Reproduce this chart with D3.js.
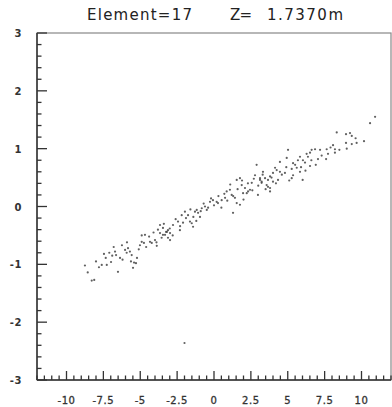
<!DOCTYPE html>
<html><head><meta charset="utf-8">
<script src="https://cdn.jsdelivr.net/npm/d3@7"></script>
<style>body{margin:0;background:#fff}svg{display:block}</style>
</head><body>
<script>
const titleParts = ["Element=17", "Z=", "1.7370m"];
const xTicks = [-10, -7.5, -5, -2.5, 0, 2.5, 5, 7.5, 10];
const xTickLabels = ["-10", "-7.5", "-5", "-2.5", "0", "2.5", "5", "7.5", "10"];
const yTicks = [-3, -2, -1, 0, 1, 2, 3];
const yTickLabels = ["-3", "-2", "-1", "0", "1", "2", "3"];
const xDomain = [-12, 12];
const yDomain = [-3, 3];
const pointsX = [
-8.75,-8.56,-8.29,-8.12,-7.46,-7.34,-7.61,-7.27,-6.98,-6.71,-6.64,-6.37,-6.03,-5.92,-5.83,-5.58,-5.63,-5.42,-5.49,-5.22,-5.29,-4.90,-5.02,-4.75,-4.68,-4.34,-4.22,-3.88,-4.00,-3.66,-3.46,-3.25,-3.12,-2.98,-6.51,-6.24,
-3.66,-3.46,-3.19,-3.12,-3.32,-2.78,-2.44,-2.19,-1.97,-1.76,-1.63,-1.51,-1.42,-1.29,-1.17,-1.08,-0.83,-0.61,-0.49,-0.27,-0.07,0.18,0.27,0.52,0.75,0.86,1.08,1.20,1.29,1.54,1.76,1.88,1.97,2.10,2.22,2.31,2.44,2.56,2.78,2.89,2.98,3.12,3.23,3.46,3.66,3.80,4.00,4.25,4.34,1.54,1.76,1.42,-0.95,-2.31,-2.98,-3.55,
10.92,10.58,8.32,8.95,9.22,9.34,8.07,8.95,9.34,9.67,10.17,7.64,8.20,7.73,8.20,7.19,6.85,6.62,6.51,6.28,6.37,7.05,5.83,6.03,6.17,5.69,5.02,4.93,5.36,5.61,4.47,4.14,4.47,4.81,5.27,5.36,5.83,6.01,6.51,3.32,3.80,3.66,3.23,3.57,4.00,5.27,3.80,3.12,
-8.0,-7.8,-7.1,-6.9,-6.8,-6.2,-5.9,-5.7,-5.1,-4.9,-4.6,-4.4,-4.1,-3.9,-3.8,-3.4,-3.0,-2.8,-2.6,-2.3,-2.1,-1.9,-1.6,-1.4,-1.2,-0.9,-0.7,-0.4,-0.2,0.0,0.3,0.5,0.7,0.9,1.1,1.3,1.6,1.9,2.0,2.3,2.6,2.7,3.0,3.3,3.5,3.9,4.2,4.6,4.9,5.1,5.5,5.9,6.2,6.6,6.9,7.3,7.6,7.9,8.5,9.0,9.6,-2.0
];
const pointsY = [
-1.02,-1.14,-1.28,-1.27,-0.82,-0.89,-1.01,-1.01,-0.96,-0.78,-0.84,-0.89,-0.75,-0.80,-0.72,-0.84,-0.95,-0.97,-1.06,-0.89,-0.98,-0.61,-0.67,-0.63,-0.49,-0.61,-0.63,-0.68,-0.58,-0.46,-0.49,-0.44,-0.54,-0.46,-1.13,-0.67,
-0.32,-0.37,-0.44,-0.41,-0.49,-0.32,-0.26,-0.15,-0.09,-0.15,-0.26,-0.29,-0.35,-0.09,-0.06,-0.11,-0.03,0.00,-0.06,0.08,0.11,0.08,0.06,0.11,0.15,0.26,0.29,0.20,-0.11,0.46,0.49,0.37,0.23,0.32,0.23,0.26,0.29,0.41,0.54,0.72,0.20,0.46,0.41,0.49,0.34,0.26,0.58,0.63,0.46,0.06,0.03,0.15,-0.18,-0.41,-0.58,-0.54,
1.55,1.44,1.28,1.25,1.27,1.22,1.06,1.10,1.08,1.10,1.13,0.99,0.99,0.91,0.93,0.98,0.99,0.98,0.93,0.91,0.86,0.82,0.86,0.80,0.76,0.80,0.98,0.84,0.75,0.67,0.77,0.67,0.60,0.58,0.65,0.54,0.60,0.46,0.70,0.60,0.52,0.46,0.43,0.37,0.43,0.49,0.32,0.49,
-0.95,-1.05,-0.80,-0.85,-0.70,-0.92,-0.62,-0.78,-0.74,-0.50,-0.70,-0.52,-0.45,-0.62,-0.40,-0.30,-0.38,-0.50,-0.22,-0.34,-0.28,-0.20,-0.05,-0.18,-0.25,-0.08,0.05,-0.02,0.14,0.02,0.18,-0.02,0.22,0.10,0.38,0.18,0.30,0.45,0.12,0.40,0.28,0.48,0.36,0.55,0.30,0.50,0.40,0.55,0.68,0.45,0.72,0.68,0.62,0.80,0.72,0.88,0.82,1.02,0.98,1.00,1.18,-2.36
];

const W = 392, H = 407;
const pLeft = 37, pRight = 391, pTop = 33, pBottom = 380;
const svg = d3.select("body").append("svg").attr("width", W).attr("height", H);
const x = d3.scaleLinear().domain(xDomain).range([pLeft, pRight]);
const y = d3.scaleLinear().domain(yDomain).range([pBottom, pTop]);

// frame
svg.append("rect").attr("x", pLeft).attr("y", pTop).attr("width", pRight - pLeft).attr("height", pBottom - pTop)
  .attr("fill", "none").attr("stroke", "#888").attr("stroke-width", 1.2);

// x minor/major ticks
const xMinor = d3.range(-12, 12.001, 0.5);
svg.append("g").selectAll("line").data(xMinor).join("line")
  .attr("x1", d => x(d)).attr("x2", d => x(d))
  .attr("y1", pBottom).attr("y2", d => Math.abs(d / 2.5 - Math.round(d / 2.5)) < 1e-6 ? pBottom - 9 : pBottom - 4.5)
  .attr("stroke", "#333").attr("stroke-width", 1.3);
const yMinor = d3.range(-3, 3.001, 0.2);
svg.append("g").selectAll("line").data(yMinor).join("line")
  .attr("y1", d => y(d)).attr("y2", d => y(d))
  .attr("x1", pLeft).attr("x2", d => Math.abs(d - Math.round(d)) < 1e-6 ? pLeft + 10 : pLeft + 4.5)
  .attr("stroke", "#333").attr("stroke-width", 1.3);

// axis lines
svg.append("line").attr("x1", pLeft).attr("x2", pLeft).attr("y1", pTop).attr("y2", pBottom).attr("stroke", "#333").attr("stroke-width", 1.5);
svg.append("line").attr("x1", pLeft).attr("x2", pRight).attr("y1", pBottom).attr("y2", pBottom).attr("stroke", "#333").attr("stroke-width", 1.5);

// tick labels
svg.append("g").selectAll("text").data(xTicks).join("text")
  .attr("x", d => x(d)).attr("y", 404).attr("text-anchor", "middle")
  .attr("font-family", "DejaVu Sans, sans-serif").attr("font-size", 10)
  .attr("letter-spacing", 0.6).attr("fill", "#333").attr("stroke", "#333").attr("stroke-width", 0.3)
  .text((d, i) => xTickLabels[i]);
svg.append("g").selectAll("text").data(yTicks).join("text")
  .attr("x", 22).attr("y", d => y(d) + 4).attr("text-anchor", "end")
  .attr("font-family", "DejaVu Sans, sans-serif").attr("font-size", 10).attr("font-weight", "bold")
  .attr("letter-spacing", 0.6).attr("fill", "#333")
  .text((d, i) => yTickLabels[i]);

// title
const tx = [87, 230, 267], tw = [105, 22, 76];
svg.append("g").selectAll("text").data(titleParts).join("text")
  .attr("x", (d, i) => tx[i]).attr("y", 20)
  .attr("font-family", "DejaVu Sans, sans-serif").attr("font-size", 15)
  .attr("fill", "#222").attr("textLength", (d, i) => tw[i]).attr("lengthAdjust", "spacing")
  .text(d => d);

// points
svg.append("g").selectAll("circle").data(pointsX.map((v, i) => [v, pointsY[i]])).join("circle")
  .attr("cx", d => x(d[0])).attr("cy", d => y(d[1])).attr("r", 1.1)
  .attr("fill", "#444").attr("opacity", 0.85);
</script>
</body></html>
